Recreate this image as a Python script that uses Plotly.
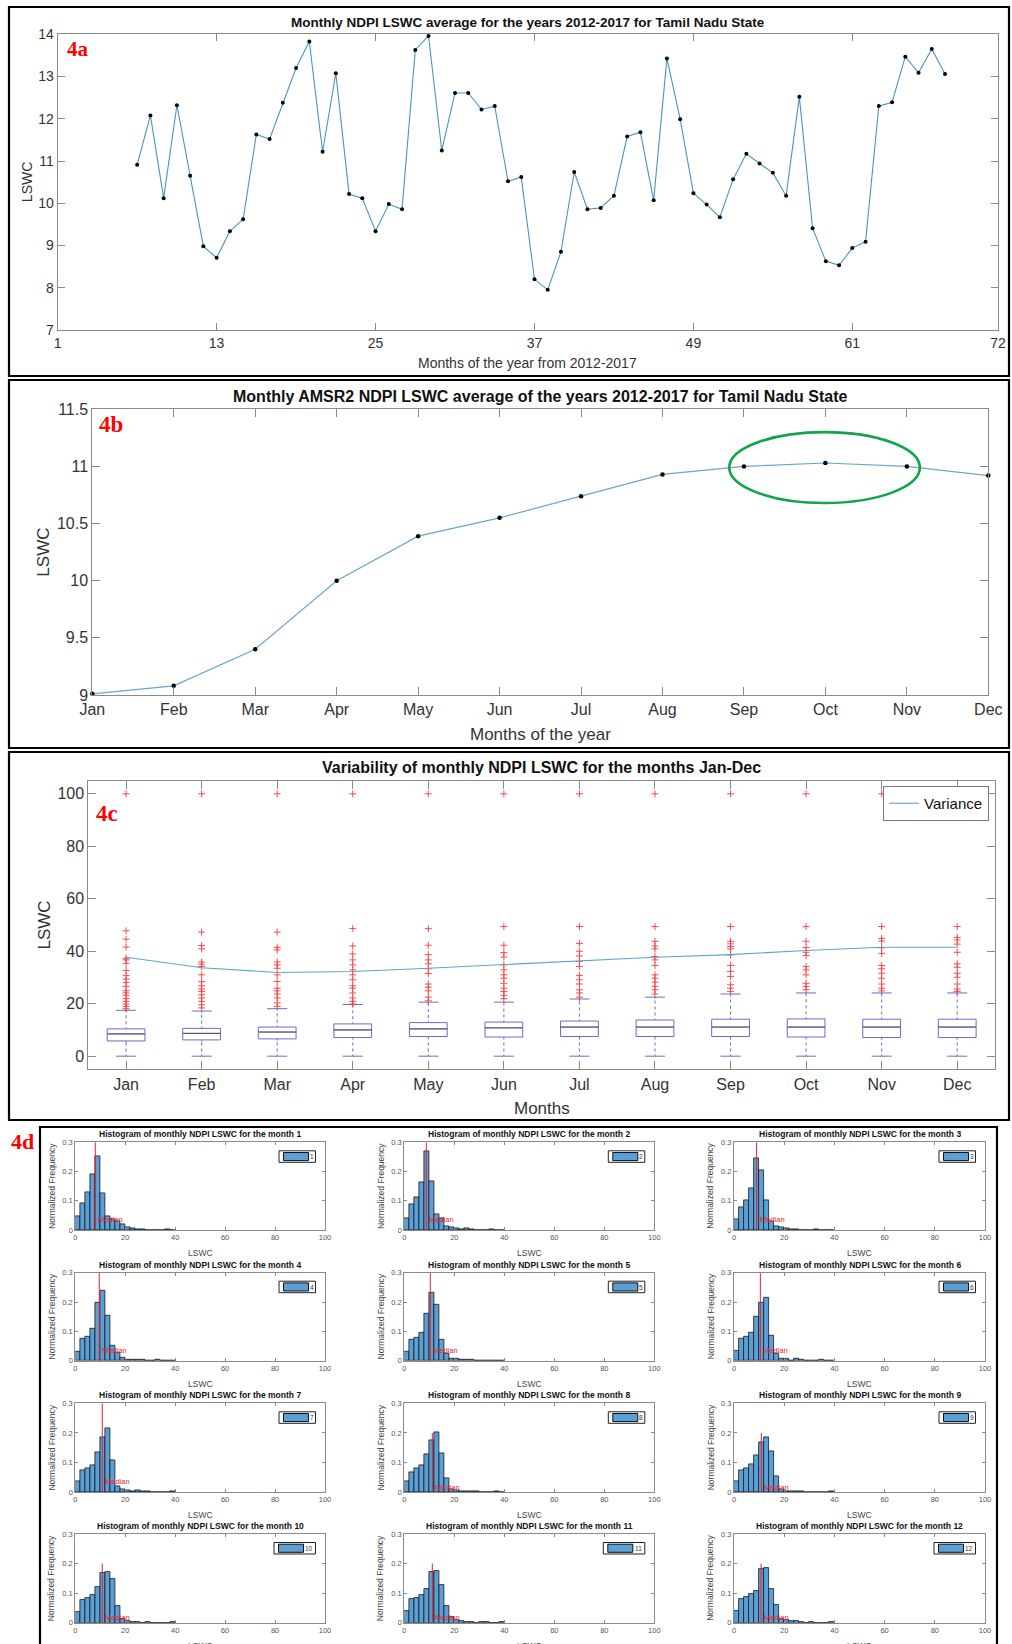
import plotly.graph_objects as go

W, H = 1012, 1644


def px(x):
    return x / W


def py(y):
    return 1 - y / H


FONT = "Arial, Liberation Sans, Helvetica, sans-serif"
SERIF = "Liberation Serif, Times New Roman, serif"
AXC = "#8a8a8a"
TXT = "#333333"

MONTHS = ["Jan", "Feb", "Mar", "Apr", "May", "Jun", "Jul", "Aug", "Sep", "Oct", "Nov", "Dec"]

# ---------------- 4a : monthly average 2012-2017 ----------------
MONTH_NO_A = [7, 8, 9, 10, 11, 12, 13, 14, 15, 16, 17, 18, 19, 20, 21, 22, 23, 24, 25, 26, 27,
              28, 29, 30, 31, 32, 33, 34, 35, 36, 37, 38, 39, 40, 41, 42, 43, 44, 45, 46, 47, 48,
              49, 50, 51, 52, 53, 54, 55, 56, 57, 58, 59, 60, 61, 62, 63, 64, 65, 66, 67, 68]
LSWC_A = [10.91, 12.08, 10.12, 12.32, 10.65, 8.98, 8.71, 9.34, 9.62, 11.63, 11.52, 12.38, 13.20,
          13.83, 11.22, 13.08, 10.22, 10.12, 9.34, 9.98, 9.86, 13.63, 13.96, 11.25, 12.61, 12.61,
          12.22, 12.30, 10.52, 10.62, 8.20, 7.95, 8.85, 10.74, 9.86, 9.89, 10.18, 11.58, 11.68,
          10.07, 13.43, 11.99, 10.24, 9.97, 9.67, 10.57, 11.17, 10.94, 10.72, 10.18, 12.52, 9.41,
          8.63, 8.53, 8.94, 9.09, 12.30, 12.39, 13.47, 13.09, 13.65, 13.06]
XTICKS_A = [1, 13, 25, 37, 49, 61, 72]

# ---------------- 4b : monthly climatology ----------------
AVG_B = [9.01, 9.08, 9.40, 10.00, 10.39, 10.55, 10.74, 10.93, 11.00, 11.03, 11.00, 10.92]
HIGHLIGHT_MONTH = "Oct"

# ---------------- 4c : box plots ----------------
Q1_C = [5.8, 6.2, 6.6, 7.1, 7.5, 7.3, 7.5, 7.5, 7.5, 7.3, 7.1, 7.1]
MED_C = [8.5, 8.7, 9.2, 10.0, 10.4, 10.8, 11.1, 11.1, 11.1, 11.1, 11.1, 11.1]
Q3_C = [10.4, 10.6, 11.1, 12.3, 12.8, 13.0, 13.4, 13.8, 14.1, 14.2, 14.1, 14.1]
LOWER_C = [0, 0, 0, 0, 0, 0, 0, 0, 0, 0, 0, 0]
UPPER_C = [17.5, 17.2, 18.1, 19.7, 20.6, 20.6, 21.8, 22.5, 23.7, 24.1, 24.1, 24.1]
VAR_C = [37.7, 33.7, 31.9, 32.3, 33.5, 34.9, 36.2, 37.7, 38.7, 40.3, 41.5, 41.5]
OUTLIERS_C = [
    [100, 47.8, 44.6, 41.6, 37.3, 36.7, 35.4, 32.7, 30.8, 29.4, 28.1, 26.6, 24.9, 24.1, 23.2, 21.9, 20.9, 19.9, 19.0, 18.1],
    [100, 47.3, 42.2, 40.9, 35.9, 35.1, 34.2, 31.0, 28.4, 26.8, 25.6, 24.7, 23.4, 22.2, 20.9, 19.6, 18.4],
    [100, 47.3, 41.5, 40.5, 35.9, 34.8, 33.5, 31.0, 28.5, 25.9, 24.9, 23.7, 22.2, 20.3, 19.0],
    [100, 48.7, 42.0, 39.0, 36.7, 34.8, 32.9, 31.0, 29.1, 26.8, 25.9, 24.1, 22.2, 20.9, 19.9],
    [100, 48.6, 42.3, 38.7, 36.7, 35.2, 33.3, 31.5, 27.5, 26.3, 24.9, 22.5, 21.1],
    [100, 49.4, 42.3, 39.5, 37.8, 34.8, 32.9, 31.0, 29.7, 27.8, 25.9, 24.7, 23.2, 21.9],
    [100, 49.4, 43.0, 40.0, 38.2, 36.1, 34.2, 30.8, 29.1, 27.5, 25.3, 24.1, 22.5],
    [100, 49.4, 43.8, 42.0, 40.9, 38.0, 36.7, 34.6, 31.0, 29.7, 28.2, 26.6, 25.3, 23.7],
    [100, 49.4, 43.8, 42.8, 41.8, 40.9, 38.6, 34.6, 32.3, 30.4, 27.2, 25.9, 24.7],
    [100, 49.4, 43.8, 41.4, 39.6, 38.4, 34.2, 32.9, 31.0, 27.8, 26.6, 25.3],
    [100, 49.4, 44.9, 43.9, 41.3, 39.2, 34.6, 33.3, 31.6, 29.7, 27.5, 25.9, 24.9],
    [100, 49.4, 45.3, 44.3, 42.7, 39.6, 35.2, 33.9, 31.6, 30.1, 27.5, 25.6, 24.7],
]

# ---------------- 4d : histograms ----------------
BIN_LEFT = [0, 2, 4, 6, 8, 10, 12, 14, 16, 18, 20, 22, 24, 26, 28, 30, 32, 34, 36, 38]
BIN_WIDTH = 2
HIST_FREQ = [
    [0.047, 0.092, 0.130, 0.190, 0.253, 0.125, 0.046, 0.036, 0.029, 0.019, 0.009, 0.007, 0.004, 0.002, 0, 0, 0, 0, 0.002, 0],
    [0.040, 0.088, 0.113, 0.162, 0.269, 0.166, 0.054, 0.040, 0.011, 0.010, 0.005, 0.003, 0.006, 0.001, 0, 0, 0, 0.002, 0, 0],
    [0.038, 0.078, 0.103, 0.143, 0.245, 0.204, 0.103, 0.031, 0.014, 0.008, 0.005, 0.003, 0.003, 0, 0, 0, 0.002, 0, 0, 0],
    [0.030, 0.076, 0.081, 0.110, 0.197, 0.240, 0.153, 0.052, 0.028, 0.009, 0.003, 0.005, 0.005, 0.002, 0, 0, 0.002, 0, 0, 0],
    [0.030, 0.072, 0.080, 0.095, 0.161, 0.231, 0.190, 0.073, 0.025, 0.007, 0.006, 0.005, 0.003, 0.005, 0, 0, 0, 0, 0, 0],
    [0.033, 0.074, 0.083, 0.094, 0.151, 0.198, 0.216, 0.086, 0.025, 0.007, 0.006, 0.001, 0.006, 0.004, 0, 0, 0, 0.002, 0, 0],
    [0.036, 0.073, 0.081, 0.090, 0.135, 0.185, 0.217, 0.107, 0.021, 0.010, 0.006, 0.004, 0.007, 0.003, 0.003, 0, 0, 0, 0, 0.003],
    [0.037, 0.069, 0.081, 0.090, 0.129, 0.175, 0.201, 0.131, 0.048, 0.010, 0.006, 0.003, 0.004, 0.003, 0.003, 0, 0, 0, 0.003, 0],
    [0.037, 0.073, 0.081, 0.094, 0.126, 0.170, 0.185, 0.138, 0.053, 0.011, 0.004, 0.003, 0.005, 0.003, 0, 0, 0, 0, 0, 0.003],
    [0.035, 0.077, 0.082, 0.094, 0.120, 0.167, 0.173, 0.147, 0.055, 0.011, 0.005, 0.002, 0.002, 0, 0.002, 0, 0, 0, 0, 0.003],
    [0.039, 0.080, 0.083, 0.094, 0.115, 0.171, 0.175, 0.129, 0.056, 0.019, 0.008, 0.006, 0.003, 0.002, 0, 0.002, 0.002, 0, 0, 0.003],
    [0.039, 0.079, 0.086, 0.098, 0.108, 0.182, 0.184, 0.115, 0.060, 0.014, 0.008, 0.006, 0.005, 0.002, 0, 0.002, 0, 0, 0, 0.003],
]
MEDIAN_D = [8.0, 8.8, 9.0, 9.6, 10.4, 10.5, 10.8, 11.2, 10.9, 10.8, 11.2, 10.8]
MEDIAN_TOP_D = [0.3, 0.3, 0.3, 0.3, 0.3, 0.3, 0.3, 0.2, 0.2, 0.2, 0.2, 0.2]
MEDIAN_LABEL_Y = [0.035, 0.035, 0.035, 0.035, 0.035, 0.035, 0.035, 0.017, 0.017, 0.017, 0.017, 0.017]

LINE_BLUE = "#4a93c6"
BOX_BLUE = "#6a6ad2"
HIST_FILL = "#5a9fd6"

fig = go.Figure()
layout = dict(
    template="none",
    width=W, height=H, margin=dict(l=0, r=0, t=0, b=0, pad=0, autoexpand=False),
    paper_bgcolor="white", plot_bgcolor="white",
    font=dict(family=FONT, color=TXT),
    showlegend=True,
)
annotations = []
shapes = []


def axis(domain, anchor, **kw):
    d = dict(domain=domain, anchor=anchor, showline=True, linecolor=AXC, linewidth=1,
             mirror="ticks", ticks="inside", tickcolor=AXC, showgrid=False, zeroline=False,
             automargin=False)
    d.update(kw)
    return d


def text(x, y, s, size, bold=False, color="#111111", angle=0, family=FONT, xanchor="center",
         xref="paper", yref="paper", yanchor="middle"):
    annotations.append(dict(
        x=x, y=y, xref=xref, yref=yref, text=("<b>%s</b>" % s) if bold else s,
        showarrow=False, font=dict(size=size, color=color, family=family),
        textangle=angle, xanchor=xanchor, yanchor=yanchor))


def rect(x0, y0, x1, y1, color="black", width=2.2, fill=None):
    d = dict(type="rect", xref="paper", yref="paper", x0=px(x0), x1=px(x1),
             y0=py(y1), y1=py(y0), line=dict(color=color, width=width))
    if fill:
        d["fillcolor"] = fill
    shapes.append(d)


# ---------- panel 4a ----------
A_L, A_R, A_T, A_B = 57.7, 998, 34.3, 330
layout["xaxis"] = axis([px(A_L), px(A_R)], "y", range=[1, 72], tickvals=XTICKS_A,
                       ticklen=7, tickfont=dict(size=14, color=TXT))
layout["yaxis"] = axis([py(A_B), py(A_T)], "x", range=[7, 14], dtick=1,
                       ticklen=7, tickfont=dict(size=14, color=TXT))
fig.add_trace(go.Scatter(x=MONTH_NO_A, y=LSWC_A, mode="lines+markers", xaxis="x", yaxis="y",
                         line=dict(color=LINE_BLUE, width=1.1),
                         marker=dict(color="black", size=4), showlegend=False, cliponaxis=False))
text(px((A_L + A_R) / 2), py(23), "Monthly NDPI LSWC average for the years 2012-2017 for Tamil Nadu State", 13.5, bold=True)
text(px((A_L + A_R) / 2), py(363), "Months of the year from 2012-2017", 14, color=TXT)
text(px(27), py((A_T + A_B) / 2), "LSWC", 14, color=TXT, angle=-90)
text(px(78), py(49), "4a", 21, bold=True, color="#ff0000", family=SERIF)
rect(9, 7, 1009, 376)

# ---------- panel 4b ----------
B_L, B_R, B_T, B_B = 92.3, 988.3, 409.3, 695
layout["xaxis2"] = axis([px(B_L), px(B_R)], "y2", type="category", range=[0, 11],
                        ticklen=8, tickfont=dict(size=16, color=TXT))
layout["yaxis2"] = axis([py(B_B), py(B_T)], "x2", range=[9, 11.5], dtick=0.5,
                        ticklen=8, tickfont=dict(size=16, color=TXT))
fig.add_trace(go.Scatter(x=MONTHS, y=AVG_B, mode="lines+markers", xaxis="x2", yaxis="y2",
                         line=dict(color="#6aa6cc", width=1.2),
                         marker=dict(color="black", size=4.5), showlegend=False, cliponaxis=False))
hi = MONTHS.index(HIGHLIGHT_MONTH)
shapes.append(dict(type="circle", xref="x2", yref="y2",
                   x0=hi - 1.18, x1=hi + 1.16, y0=AVG_B[hi] - 0.35, y1=AVG_B[hi] + 0.27,
                   line=dict(color="#10a54a", width=2.6)))
text(px((B_L + B_R) / 2), py(396), "Monthly AMSR2 NDPI LSWC average of the years 2012-2017 for Tamil Nadu State", 16, bold=True)
text(px((B_L + B_R) / 2), py(734), "Months of the year", 17, color=TXT)
text(px(43.5), py((B_T + B_B) / 2), "LSWC", 17, color=TXT, angle=-90)
text(px(111), py(425), "4b", 23, bold=True, color="#ff0000", family=SERIF)
rect(9, 380, 1009, 748)

# ---------- panel 4c ----------
C_L, C_R, C_T, C_B = 88.3, 995, 780.7, 1069.3
POS_C = [i + 1 for i in range(len(MONTHS))]
layout["xaxis3"] = axis([px(C_L), px(C_R)], "y3", range=[0.5, 12.5], tickvals=POS_C, ticktext=MONTHS,
                        ticklen=8, tickfont=dict(size=16, color=TXT))
layout["yaxis3"] = axis([py(C_B), py(C_T)], "x3", range=[-5, 105], tickvals=[0, 20, 40, 60, 80, 100],
                        ticklen=8, tickfont=dict(size=16, color=TXT))
fig.add_trace(go.Box(x=POS_C, q1=Q1_C, median=MED_C, q3=Q3_C, lowerfence=LOWER_C, upperfence=UPPER_C,
                     xaxis="x3", yaxis="y3", width=0.5, whiskerwidth=0.53, boxpoints=False,
                     line=dict(color=BOX_BLUE, width=1), fillcolor="rgba(255,255,255,0)",
                     showlegend=False, hoverinfo="skip"))
# white dashes over the whiskers so that they read as dashed lines (MATLAB style)
wx, wy = [], []
for p, lo, q1, q3, up in zip(POS_C, LOWER_C, Q1_C, Q3_C, UPPER_C):
    wx += [p, p, None, p, p, None]
    wy += [q3 + 0.6, up - 0.6, None, lo + 0.6, q1 - 0.6, None]
fig.add_trace(go.Scatter(x=wx, y=wy, mode="lines", xaxis="x3", yaxis="y3",
                         line=dict(color="white", width=2, dash="3px,3px"),
                         showlegend=False, hoverinfo="skip"))
# median lines (drawn dark grey as in the original)
mx, my = [], []
for p, m in zip(POS_C, MED_C):
    mx += [p - 0.25, p + 0.25, None]
    my += [m, m, None]
fig.add_trace(go.Scatter(x=mx, y=my, mode="lines", xaxis="x3", yaxis="y3",
                         line=dict(color="#5a5a5a", width=1), showlegend=False, hoverinfo="skip"))
ox, oy = [], []
for p, vals in zip(POS_C, OUTLIERS_C):
    ox += [p] * len(vals)
    oy += vals
fig.add_trace(go.Scatter(x=ox, y=oy, mode="markers", xaxis="x3", yaxis="y3",
                         marker=dict(symbol="cross-thin", size=5, line=dict(color="#f23b3b", width=0.9)),
                         showlegend=False, cliponaxis=False))
fig.add_trace(go.Scatter(x=POS_C, y=VAR_C, mode="lines", name="Variance", xaxis="x3", yaxis="y3",
                         line=dict(color="#5aa6cc", width=1.1), legend="legend"))
layout["legend"] = dict(x=px(989), y=py(786), xanchor="right", yanchor="top", bgcolor="white",
                        bordercolor="#777777", borderwidth=1, font=dict(size=15, color="#111111"),
                        itemwidth=30, tracegroupgap=0)
text(px((C_L + C_R) / 2), py(767), "Variability of monthly NDPI LSWC for the months Jan-Dec", 16, bold=True)
text(px((C_L + C_R) / 2), py(1108), "Months", 17, color=TXT)
text(px(43.5), py((C_T + C_B) / 2), "LSWC", 17, color=TXT, angle=-90)
text(px(107), py(813), "4c", 23, bold=True, color="#ff0000", family=SERIF)
rect(9, 752, 1009, 1120)

# ---------- panel 4d ----------
COL_X = [(75.3, 325), (404.3, 654.3), (734, 985)]
ROW_Y = [(1142.3, 1230), (1272.7, 1360.7), (1403.3, 1492.3), (1534, 1622.7)]
centers = [b + BIN_WIDTH / 2 for b in BIN_LEFT]
for mi in range(12):
    month = mi + 1
    r, c = mi // 3, mi % 3
    L, R = COL_X[c]
    T, B = ROW_Y[r]
    k = 4 + mi
    xa, ya = "x%d" % k, "y%d" % k
    layout["xaxis%d" % k] = axis([px(L), px(R)], ya, range=[0, 100], dtick=20, ticklen=3,
                                 tickfont=dict(size=7.5, color="#555555"))
    layout["yaxis%d" % k] = axis([py(B), py(T)], xa, range=[0, 0.3], tickvals=[0, 0.1, 0.2, 0.3],
                                 ticktext=["0", "0.1", "0.2", "0.3"], ticklen=3,
                                 tickfont=dict(size=7.5, color="#555555"))
    fig.add_trace(go.Bar(x=centers, y=HIST_FREQ[mi], width=BIN_WIDTH, name=str(month),
                         xaxis=xa, yaxis=ya, showlegend=False,
                         marker=dict(color=HIST_FILL, line=dict(color="#1a1a1a", width=0.8))))
    fig.add_trace(go.Scatter(x=[MEDIAN_D[mi], MEDIAN_D[mi]], y=[0, MEDIAN_TOP_D[mi]], mode="lines",
                             xaxis=xa, yaxis=ya, line=dict(color="#e8202a", width=1),
                             showlegend=False, hoverinfo="skip"))
    annotations.append(dict(x=MEDIAN_D[mi] + 0.4, y=MEDIAN_LABEL_Y[mi], xref=xa, yref=ya, text="Median",
                            showarrow=False, xanchor="left", yanchor="middle",
                            font=dict(size=7.5, color="#e8202a", family=FONT)))
    # small MATLAB-style legend box: swatch + series name
    nd = len(str(month))
    sw_x1 = R - 11.5 - 5 * nd
    sw_x0 = sw_x1 - 25
    rect(sw_x0 - 4.5, T + 8.5, R - 9.5, T + 20, color="#222222", width=1, fill="white")
    rect(sw_x0, T + 10.2, sw_x1, T + 18.3, color="#111111", width=1, fill=HIST_FILL)
    text(px(R - 10.5 - 2.6 * nd), py(T + 14.3), str(month), 6.5, color="#333333")
    text(px((L + R) / 2), py(T - 8), "Histogram of monthly NDPI LSWC for the month %d" % month, 8.5, bold=True)
    text(px((L + R) / 2), py(B + 23), "LSWC", 8.5, color="#444444")
    text(px(L - 23.5), py((T + B) / 2), "Normalized Frequency", 8.5, color="#444444", angle=-90)

text(px(22), py(1141), "4d", 22, bold=True, color="#ff0000", family=SERIF)
rect(40, 1127, 997, 1660)

layout["annotations"] = annotations
layout["shapes"] = shapes
layout["bargap"] = 0
fig.update_layout(**layout)
fig.write_html("out.html", config={"displayModeBar": False},
               post_script="document.body.style.margin='0';document.body.style.overflow='hidden';"
                           "document.documentElement.style.overflow='hidden';")
